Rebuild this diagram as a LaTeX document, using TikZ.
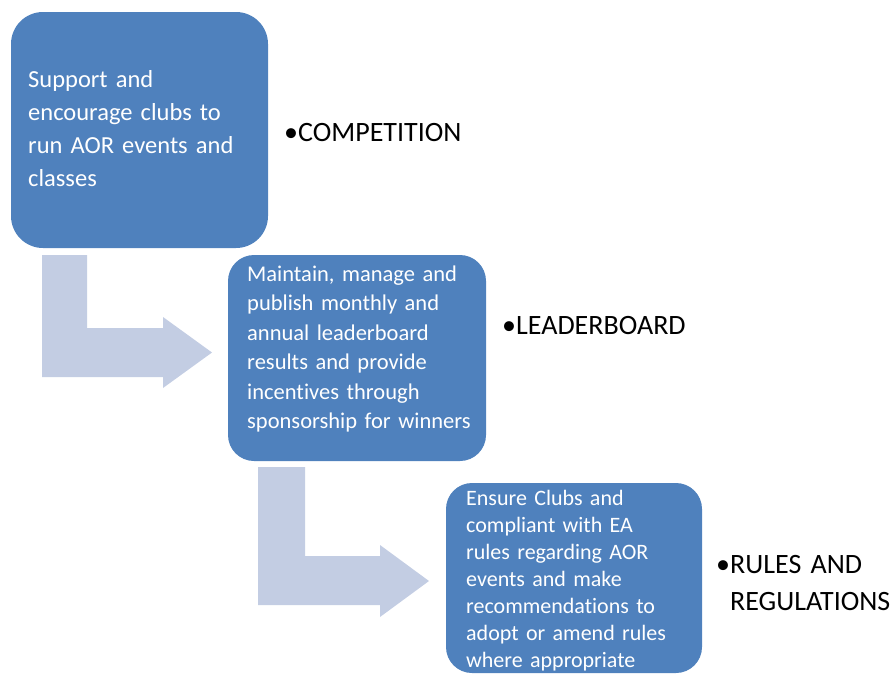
\documentclass[tikz,border=0pt]{standalone}
\usepackage{fontspec}
\setmainfont{Carlito}[Ligatures=CommonOff]
\definecolor{boxblue}{HTML}{4F81BD}
\definecolor{arrowblue}{HTML}{C3CDE3}
\begin{document}
\begin{tikzpicture}[x=1pt,y=-1pt,
  stepbox/.style={fill=boxblue,draw=none},
  boxtext/.style={anchor=base west,inner sep=0pt,text=white,text width=250pt,align=left},
  label/.style={anchor=base west,inner sep=0pt,text=black,text width=200pt,align=left,font=\fontsize{28}{37}\selectfont},
  bentarrow/.style={fill=arrowblue,draw=none}]
\useasboundingbox (0,0) rectangle (895,673);
% boxes
\fill[stepbox,rounded corners=32pt] (11,12) rectangle (268,248);
\fill[stepbox,rounded corners=26pt] (228,255) rectangle (486,461);
\fill[stepbox,rounded corners=26pt] (446,483) rectangle (702,673);
% bent arrows
\fill[bentarrow] (42,255) -- (87,255) -- (87,328) -- (163,328) -- (163,317) -- (212,352.5) -- (163,388) -- (163,377) -- (42,377) -- cycle;
\fill[bentarrow] (258,467) -- (305,467) -- (305,556) -- (380,556) -- (380,545) -- (429,581) -- (380,617) -- (380,605) -- (258,605) -- cycle;
% box texts
\node[boxtext,font=\fontsize{24.5}{33}\selectfont] (t1) at (28,87) {Support and\\encourage clubs to\\run AOR events and\\classes};
\node[boxtext,font=\fontsize{22.5}{29.5}\selectfont] (t2) at (247,281) {Maintain, manage and\\publish monthly and\\annual leaderboard\\results and provide\\incentives through\\sponsorship for winners};
\node[boxtext,font=\fontsize{22}{27}\selectfont] (t3) at (466,505) {Ensure Clubs and\\compliant with EA\\rules regarding AOR\\events and make\\recommendations to\\adopt or amend rules\\where appropriate};
% labels
\node[label] (l1) at (284,141) {•COMPETITION};
\node[label] (l2) at (502,334) {•LEADERBOARD};
\node[label] (l3) at (716,573) {•RULES AND\\\phantom{•}REGULATIONS};
\end{tikzpicture}
\end{document}
